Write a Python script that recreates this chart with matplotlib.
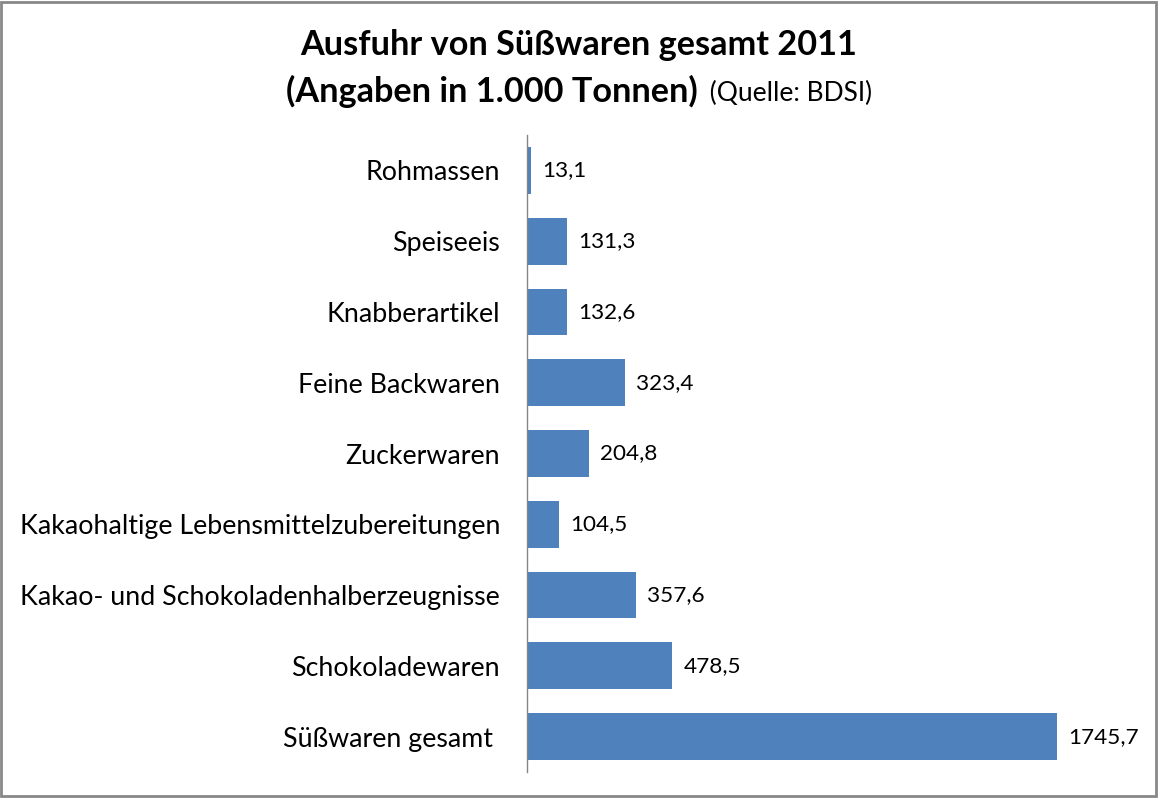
import matplotlib
matplotlib.use("Agg")
import matplotlib.pyplot as plt
from matplotlib.patches import Rectangle

categories = ["Rohmassen", "Speiseeis", "Knabberartikel", "Feine Backwaren", "Zuckerwaren",
              "Kakaohaltige Lebensmittelzubereitungen", "Kakao- und Schokoladenhalberzeugnisse",
              "Schokoladewaren", "Süßwaren gesamt "]
values = [13.1, 131.3, 132.6, 323.4, 204.8, 104.5, 357.6, 478.5, 1745.7]
value_labels = ["13,1", "131,3", "132,6", "323,4", "204,8", "104,5", "357,6", "478,5", "1745,7"]

plt.rcParams['font.family'] = ['Lato', 'DejaVu Sans']

fig = plt.figure(figsize=(11.58, 7.98), dpi=100)
ax = fig.add_axes([527/1158, 26/798, 623/1158, 637/798])

ypos = list(range(len(categories)))
ax.barh(ypos, values, height=0.66, color="#4F81BD")
for y, v, lab in zip(ypos, values, value_labels):
    ax.annotate(lab, (v, y), xytext=(8, 0), textcoords="offset points",
                va="center", ha="left", fontsize=16.2)

ax.set_ylim(len(categories) - 0.5, -0.5)
ax.set_xlim(0, 2052)
ax.set_yticks(ypos)
ax.set_yticklabels(categories, fontsize=19.3)
ax.tick_params(axis="y", length=0, pad=19.4)
ax.set_xticks([])
for s in ["top", "right", "bottom"]:
    ax.spines[s].set_visible(False)
ax.spines["left"].set_color("#868686")
ax.spines["left"].set_linewidth(1)

# title
fig.text(0.5, 1 - 45/798, "Ausfuhr von Süßwaren gesamt 2011", ha="center", va="center",
         fontsize=24.7, fontweight="bold")
renderer = fig.canvas.get_renderer()
t1 = fig.text(0, 1 - 91/798, "(Angaben in 1.000 Tonnen)", ha="left", va="center",
              fontsize=24.7, fontweight="bold")
t2 = fig.text(0, 1 - 93/798, " (Quelle: BDSI)", ha="left", va="center", fontsize=19)
w1 = t1.get_window_extent(renderer).width
w2 = t2.get_window_extent(renderer).width
x0 = (1158 - (w1 + w2 + 6)) / 2
t1.set_x(x0 / 1158)
t2.set_x((x0 + w1 + 6) / 1158)

fig.patches.append(Rectangle((0.001, 0.002), 0.997, 0.996, transform=fig.transFigure,
                             fill=False, edgecolor="#888888", linewidth=2))

fig.savefig("out.png", dpi=100)
